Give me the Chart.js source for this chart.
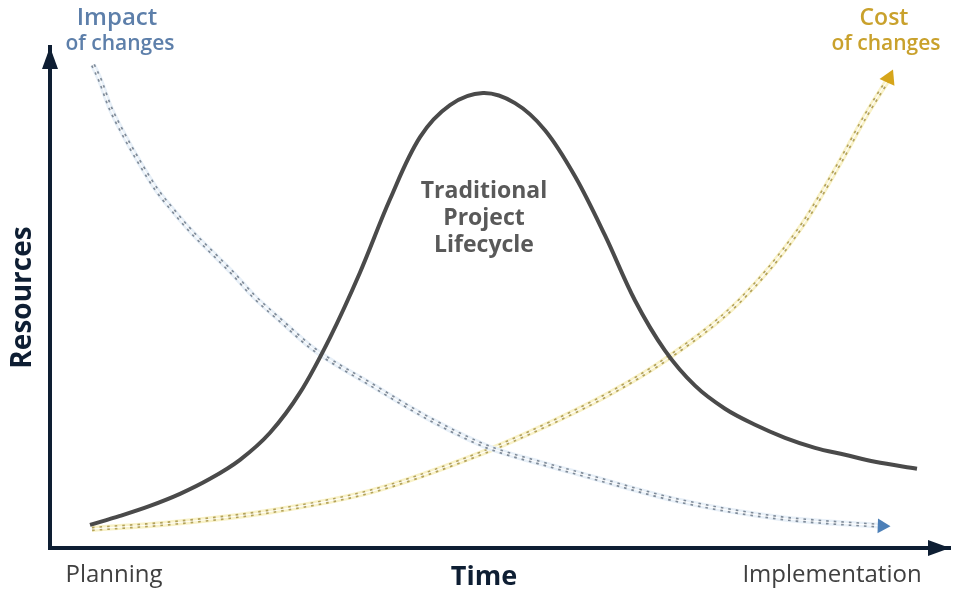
<!DOCTYPE html>
<html>
<head>
<meta charset="utf-8">
<script src="https://cdn.jsdelivr.net/npm/chart.js@4"></script>
<style>
  html, body { margin: 0; padding: 0; background: #ffffff; }
  #wrap { width: 962px; height: 599px; }
</style>
</head>
<body>
<div id="wrap"><canvas id="c" width="962" height="599"></canvas></div>
<script>
// ---- Data (time units 0..900, resource units 0..500) ----
const lifecycleX = [40, 70, 100, 130, 160, 190, 220, 250, 280, 310, 340, 370, 400, 433, 465, 495, 525, 555, 585, 615, 645, 675, 705, 735, 765, 795, 825, 867];
const lifecycleY = [23, 32, 42, 54, 69, 88, 115, 155, 210, 275, 348, 410, 442, 454, 444, 417, 371, 312, 247, 197, 162, 139, 123, 110, 100, 93, 86, 79];

const impactX = [43, 50, 60, 73, 90, 107, 123, 143, 163, 183, 203, 233, 263, 323, 383, 440, 490, 530, 630, 730, 832];
const impactY = [482, 467, 440, 414, 384, 357, 337, 314, 294, 274, 252, 225, 199, 162, 127, 100, 85, 74, 47, 30, 22];

const costX = [42, 123, 223, 323, 430, 497, 563, 617, 690, 750, 790, 816, 839];
const costY = [19, 25, 37, 57, 94, 123, 156, 189, 247, 319, 385, 432, 469];

const xTickValues = [64, 434, 782];
const xTickLabels = ['Planning', 'Time', 'Implementation'];
const yAxisTitle = 'Resources';

const impactLabel = ['Impact', 'of changes'];
const costLabel = ['Cost', 'of changes'];
const lifecycleLabel = ['Traditional', 'Project', 'Lifecycle'];

// ---- Styles ----
const NAVY = '#0e1e33';
const FONT = "'Open Sans', 'Noto Sans', sans-serif";

function pts(xs, ys) { return xs.map((x, i) => ({ x: x, y: ys[i] })); }
function lastPt(xs, ys) { return [{ x: xs[xs.length - 1], y: ys[ys.length - 1] }]; }

function dottedSet(xs, ys, halo, dash, order) {
  return [
    { data: pts(xs, ys), borderColor: halo, borderWidth: 6, pointRadius: 0, cubicInterpolationMode: 'monotone', order: order + 2 },
    { data: pts(xs, ys), borderColor: dash, borderWidth: 4.4, borderDash: [2.6, 5], pointRadius: 0, cubicInterpolationMode: 'monotone', order: order + 1 },
    { data: pts(xs, ys), borderColor: 'rgba(255,255,255,0.9)', borderWidth: 1.1, pointRadius: 0, cubicInterpolationMode: 'monotone', order: order }
  ];
}

const decor = {
  id: 'decor',
  afterDraw(chart) {
    const { ctx, chartArea: a } = chart;
    ctx.save();
    // axis arrowheads
    ctx.fillStyle = NAVY;
    ctx.beginPath();
    ctx.moveTo(a.left, a.top);
    ctx.lineTo(a.left - 8, a.top + 22);
    ctx.lineTo(a.left + 8, a.top + 22);
    ctx.closePath();
    ctx.fill();
    ctx.beginPath();
    ctx.moveTo(a.right, a.bottom);
    ctx.lineTo(a.right - 22, a.bottom - 8);
    ctx.lineTo(a.right - 22, a.bottom + 8);
    ctx.closePath();
    ctx.fill();

    ctx.textAlign = 'center';
    ctx.textBaseline = 'alphabetic';
    // Impact of changes
    ctx.fillStyle = '#5d7faa';
    ctx.font = "600 24px " + FONT;
    ctx.fillText(impactLabel[0], 117, 25);
    ctx.font = "600 21px " + FONT;
    ctx.fillText(impactLabel[1], 120, 50);
    // Cost of changes
    ctx.fillStyle = '#c9a12c';
    ctx.font = "600 23px " + FONT;
    ctx.fillText(costLabel[0], 884, 25);
    ctx.font = "600 21px " + FONT;
    ctx.fillText(costLabel[1], 886, 50);
    // Traditional Project Lifecycle
    ctx.fillStyle = '#595959';
    ctx.font = "bold 23px " + FONT;
    ctx.fillText(lifecycleLabel[0], 484, 198);
    ctx.fillText(lifecycleLabel[1], 484, 225);
    ctx.fillText(lifecycleLabel[2], 484, 252);
    ctx.restore();
  }
};

new Chart(document.getElementById('c'), {
  type: 'line',
  data: {
    datasets: [
      { data: pts(lifecycleX, lifecycleY), borderColor: '#4a4a4a', borderWidth: 4, pointRadius: 0, tension: 0.35, order: 1 },
      ...dottedSet(impactX, impactY, '#e8f0f8', '#7f8b99', 4),
      ...dottedSet(costX, costY, '#f9f2c8', '#b3a25a', 8),
      { data: lastPt(impactX, impactY), showLine: false, pointStyle: 'triangle', pointRadius: 8.5, pointRotation: 92, pointBackgroundColor: '#4d80b8', pointBorderWidth: 0, order: 0 },
      { data: lastPt(costX, costY), showLine: false, pointStyle: 'triangle', pointRadius: 9.5, pointRotation: 25, pointBackgroundColor: '#d6a51a', pointBorderWidth: 0, order: 0 }
    ]
  },
  options: {
    responsive: false,
    animation: false,
    events: [],
    layout: { padding: { left: 6.4, right: 12, top: 47, bottom: -7.4 } },
    plugins: { legend: { display: false }, tooltip: { enabled: false } },
    scales: {
      x: {
        type: 'linear',
        min: 0,
        max: 900,
        grid: { display: false, drawTicks: false },
        border: { display: true, color: NAVY, width: 4 },
        afterBuildTicks: (scale) => { scale.ticks = xTickValues.map(v => ({ value: v })); },
        ticks: {
          autoSkip: false,
          maxRotation: 0,
          padding: 13,
          callback: (value, index) => xTickLabels[index],
          color: (c) => c.index === 1 ? NAVY : '#404040',
          font: (c) => c.index === 1 ? { family: FONT, size: 27, weight: 'bold' } : { family: FONT, size: 24, weight: 'normal' }
        }
      },
      y: {
        type: 'linear',
        min: 0,
        max: 500,
        grid: { display: false, drawTicks: false },
        border: { display: true, color: NAVY, width: 4 },
        ticks: { display: false },
        title: {
          display: true,
          text: yAxisTitle,
          color: NAVY,
          font: { family: FONT, size: 28, weight: 'bold' },
          padding: { top: 0, bottom: 10 }
        }
      }
    }
  },
  plugins: [decor]
});
</script>
</body>
</html>
